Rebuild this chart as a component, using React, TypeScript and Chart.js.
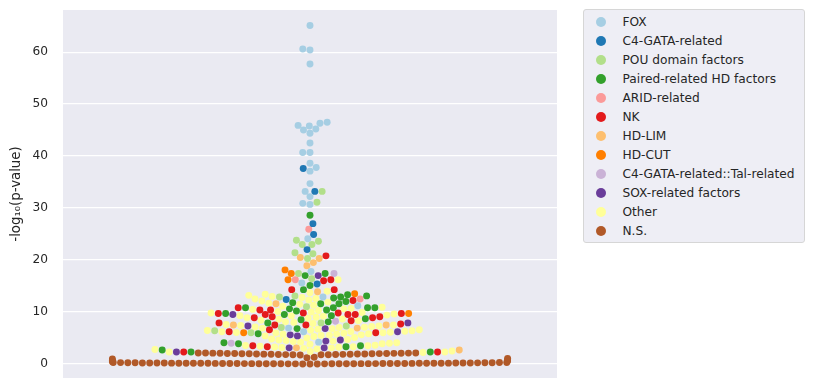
import React, { useEffect, useRef } from 'react';
import { Chart, registerables } from 'chart.js';
Chart.register(...registerables);

const categories = [
  'FOX', 'C4-GATA-related', 'POU domain factors', 'Paired-related HD factors', 'ARID-related', 'NK',
  'HD-LIM', 'HD-CUT', 'C4-GATA-related::Tal-related', 'SOX-related factors', 'Other', 'N.S.',
];
const colors = [
  '#a6cee3', '#1f78b4', '#b2df8a', '#33a02c', '#fb9a99', '#e31a1c',
  '#fdbf6f', '#ff7f00', '#cab2d6', '#6a3d9a', '#ffff99', '#b15928',
];

const foxValues = [65.1, 60.6, 60.4, 57.7, 46.5, 46.3, 45.9, 45.8, 45.2, 45.0, 44.4, 42.5, 40.7, 40.7, 38.6, 37.8, 37.1, 34.7, 33.2, 32.2, 30.9, 30.7, 24.1, 17.8, 15.6, 12.9, 11.2, 6.9, 6.2, 4.2];
const c4GataValues = [37.6, 33.2, 27.0, 24.9, 22.0, 15.4, 12.4];
const pouValues = [33.2, 31.1, 23.8, 23.6, 23.0, 23.0, 21.4, 21.2, 20.3, 17.4, 16.4, 13.1, 12.9, 11.0, 7.9, 7.3, 7.0, 6.4, 6.0];
const pairedValues = [28.6, 17.4, 17.0, 15.1, 14.3, 13.3, 13.1, 12.9, 12.7, 12.0, 11.8, 11.6, 11.6, 10.8, 10.8, 10.8, 10.8, 10.6, 10.4, 10.2, 9.7, 9.5, 9.3, 8.7, 8.5, 8.1, 7.9, 6.8, 5.8, 4.1, 3.9, 3.5, 3.3, 2.7, 2.3, 2.3];
const aridValues = [25.9, 16.2, 12.5];
const nkValues = [20.8, 16.2, 16.0, 14.3, 14.3, 12.2, 10.8, 10.4, 10.4, 9.8, 9.8, 9.7, 9.7, 9.5, 9.5, 9.5, 9.1, 9.1, 8.9, 8.9, 8.3, 7.9, 7.7, 7.5, 7.5, 6.6, 6.2, 6.0, 3.5, 3.3, 2.3, 2.3];
const hdLimValues = [20.5, 20.3, 19.5, 18.9, 13.9, 11.6, 7.5, 7.5, 6.9, 3.1, 2.7];
const hdCutValues = [18.1, 17.4, 16.2, 13.5, 9.7, 6.0];
const c4TalValues = [17.4, 8.2, 4.0];
const soxValues = [17.0, 9.5, 7.9, 7.3, 6.8, 6.2, 5.6, 5.4, 4.6, 4.4, 3.1, 3.1, 2.3];
const otherValues = [
  2.2, 2.3, 2.4, 2.3, 2.5,
  2.8, 2.9, 3.0, 3.1, 3.2, 3.25, 3.3, 3.4, 3.5, 3.55, 3.6, 3.15,
  3.8, 3.9, 4.0, 4.1, 4.2, 4.3, 4.4, 4.5, 4.6, 4.7, 4.8, 5.0, 5.1,
  5.3, 5.4, 5.5, 5.6, 5.7, 5.8, 5.9, 6.0, 6.05, 6.1, 6.2, 6.3, 6.4, 6.5, 6.6, 5.55, 5.95, 6.25, 6.45, 5.75,
  6.7, 6.8, 6.9, 7.0, 7.1, 7.2, 7.3, 7.4, 7.6, 7.8, 8.0, 8.1, 7.05, 7.5,
  8.3, 8.4, 8.6, 8.8, 9.0, 9.2, 9.3, 9.4, 9.6, 9.8, 9.9, 8.65, 9.25, 8.9,
  10.0, 10.1, 10.3, 10.5, 10.7, 10.9, 11.1, 11.3, 10.6,
  11.5, 11.7, 11.9, 12.1, 12.3, 12.5, 12.6, 12.8, 13.0, 13.2,
  13.4, 13.7, 14.0, 16.2,
];
const nsValues = [
  0.02, 0.05, 0.01, 0.08, 0.12, 0.03, 0.00, 0.07, 0.15, 0.04, 0.10, 0.06, 0.18, 0.09, 0.02, 0.13,
  0.11, 0.05, 0.16, 0.01, 0.20, 0.08, 0.14, 0.03, 0.17, 0.06, 0.22, 0.10, 0.04, 0.19, 0.12, 0.07,
  0.24, 0.15, 0.09, 0.21, 0.02, 0.26, 0.11, 0.18, 0.05, 0.23, 0.13, 0.28, 0.08, 0.16, 0.25, 0.03,
  0.20, 0.14, 0.27, 0.06, 0.29, 0.17, 0.12,
  0.42, 0.55, 0.68, 0.83, 0.97, 1.08, 1.21, 1.30,
  1.74, 1.76, 1.78, 1.79, 1.80, 1.82, 1.83, 1.85, 1.86, 1.88, 1.89, 1.90, 1.92, 1.93, 1.95, 1.96,
  1.97, 1.99, 2.00, 2.01, 2.03, 2.04, 2.05, 2.06, 2.08, 2.09, 2.10, 2.11, 2.12,
];
const seriesValues = [
  foxValues, c4GataValues, pouValues, pairedValues, aridValues, nkValues,
  hdLimValues, hdCutValues, c4TalValues, soxValues, otherValues, nsValues,
];
const yTicks = [0, 10, 20, 30, 40, 50, 60];

const FONT = "'DejaVu Sans', sans-serif";
const RADIUS = 3.47;

function swarm(chart: any) {
  const xs = chart.scales.x;
  const ys = chart.scales.y;
  const mid = xs.getPixelForValue(0);
  const half = xs.getPixelForValue(0.4) - mid;
  const pts: { ci: number; v: number; y: number; x: number }[] = [];
  seriesValues.forEach((vals, ci) => vals.forEach((v) => pts.push({ ci, v, y: ys.getPixelForValue(v), x: mid })));
  pts.sort((a, b) => a.v - b.v);
  const sep = 2 * RADIUS;
  const placed: { x: number; y: number }[] = [];
  pts.forEach((p, i) => {
    if (i === 0) { p.x = mid; placed.push(p); return; }
    const neighbors: { x: number; y: number }[] = [];
    for (let j = placed.length - 1; j >= 0; j--) {
      if (Math.abs(p.y - placed[j].y) < sep) neighbors.push(placed[j]);
      else break;
    }
    const cands: number[] = [mid];
    let leftFirst = true;
    neighbors.forEach((n) => {
      const dy = p.y - n.y;
      const dx = Math.sqrt(Math.max(sep * sep - dy * dy, 0)) * 1.05;
      if (leftFirst) cands.push(n.x - dx, n.x + dx);
      else cands.push(n.x + dx, n.x - dx);
      leftFirst = !leftFirst;
    });
    const order = cands.map((c, k) => ({ c, k })).sort((a, b) => Math.abs(a.c - mid) - Math.abs(b.c - mid) || a.k - b.k);
    let chosen = mid;
    for (const o of order) {
      let ok = true;
      for (const n of neighbors) {
        const dx = n.x - o.c;
        const dy = n.y - p.y;
        if (dx * dx + dy * dy < sep * sep - 1e-6) { ok = false; break; }
      }
      if (ok) { chosen = o.c; break; }
    }
    p.x = chosen;
    placed.push(p);
  });
  chart.data.datasets.forEach((ds: any) => { ds.data = []; });
  pts.forEach((p) => {
    let x = p.x;
    if (x < mid - half) x = mid - half;
    if (x > mid + half) x = mid + half;
    chart.data.datasets[p.ci].data.push({ x: xs.getValueForPixel(x), y: p.v });
  });
}

const bgPlugin = {
  id: 'bgPlugin',
  beforeDraw(chart: any) {
    const { ctx, chartArea } = chart;
    if (!chartArea) return;
    ctx.save();
    ctx.fillStyle = '#EAEAF2';
    ctx.fillRect(chartArea.left, chartArea.top, chartArea.right - chartArea.left, chartArea.bottom - chartArea.top);
    ctx.restore();
  },
};

export default function App() {
  const ref = useRef<HTMLCanvasElement | null>(null);
  useEffect(() => {
    if (!ref.current) return;
    const chart = new Chart(ref.current, {
      type: 'scatter',
      data: {
        datasets: categories.map((c, i) => ({
          label: c,
          data: [] as any[],
          backgroundColor: colors[i],
          borderWidth: 0,
          pointRadius: RADIUS,
          pointHoverRadius: RADIUS,
          pointBorderWidth: 0,
        })),
      },
      options: {
        animation: false,
        responsive: false,
        maintainAspectRatio: false,
        events: [],
        layout: { autoPadding: false, padding: { top: 10, bottom: 11, left: 0, right: 256 } },
        plugins: { legend: { display: false }, tooltip: { enabled: false } },
        scales: {
          x: { type: 'linear', min: -0.5, max: 0.5, display: false },
          y: {
            type: 'linear',
            min: -2.7,
            max: 68.1,
            afterFit: (s: any) => { s.width = 63; s.paddingTop = 0; s.paddingBottom = 0; },
            afterBuildTicks: (s: any) => { s.ticks = yTicks.map((v) => ({ value: v })); },
            grid: { color: '#ffffff', lineWidth: 1.2, drawTicks: false },
            border: { display: false },
            ticks: { padding: 15, color: '#262626', font: { family: FONT, size: 12.2 } },
            title: {
              display: true,
              text: '-log\u2081\u2080(p-value)',
              color: '#262626',
              font: { family: FONT, size: 13.3 },
              padding: { top: 9, bottom: 0 },
            },
          },
        },
      },
      plugins: [bgPlugin],
    } as any);
    swarm(chart);
    chart.update('none');
    return () => chart.destroy();
  }, []);

  return (
    <div style={{ position: 'fixed', left: 0, top: 0, width: 813, height: 389, background: '#ffffff' }}>
      <canvas ref={ref} width={813} height={389} style={{ position: 'absolute', left: 0, top: 0, width: 813, height: 389 }} />
      <div
        style={{
          position: 'absolute', left: 583, top: 9, width: 220, height: 232,
          background: '#EEEEF5', border: '1px solid #D6D6D6', borderRadius: 3,
          fontFamily: FONT, fontSize: 12.2, color: '#262626',
        }}
      >
        {categories.map((c, i) => (
          <div key={c} style={{ position: 'absolute', left: 0, top: 11.7 + i * 19.05 - 10, height: 20, width: 220 }}>
            <span style={{ position: 'absolute', left: 12, top: 5, width: 10, height: 10, borderRadius: 5, background: colors[i] }} />
            <span style={{ position: 'absolute', left: 38.5, top: 2, lineHeight: '16px', whiteSpace: 'nowrap' }}>{c}</span>
          </div>
        ))}
      </div>
    </div>
  );
}
